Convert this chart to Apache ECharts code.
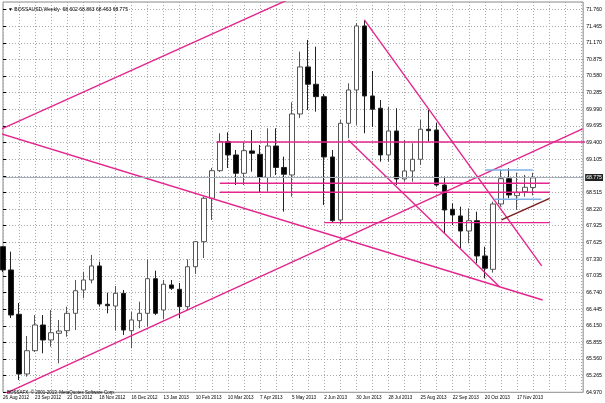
<!DOCTYPE html>
<html><head><meta charset="utf-8">
<script src="https://cdn.jsdelivr.net/npm/echarts@6/dist/echarts.min.js"></script>
<style>html,body{margin:0;padding:0;background:#fff}#c{width:605px;height:403px}</style>
</head><body><div id="c"></div>
<script>
// ---- data (weekly bars, index 0 = week of 26 Aug 2012) ----
const dateLabels = ['26 Aug 2012','23 Sep 2012','21 Oct 2012','18 Nov 2012','16 Dec 2012','13 Jan 2013','10 Feb 2013','10 Mar 2013','7 Apr 2013','5 May 2013','2 Jun 2013','30 Jun 2013','28 Jul 2013','25 Aug 2013','22 Sep 2013','20 Oct 2013','17 Nov 2013'];
const openP  = [67.553,67.140,66.354,65.295,65.708,66.164,65.898,66.017,66.063,66.371,66.785,66.962,67.211,66.531,66.501,66.726,66.063,66.240,66.371,66.985,66.430,66.874,66.797,66.489,67.198,67.642,68.412,68.901,69.416,69.180,68.855,69.251,69.192,68.781,69.339,68.958,68.825,69.907,70.741,70.434,70.214,69.144,68.027,69.742,70.333,71.468,70.226,70.008,69.180,69.605,68.754,68.896,69.103,69.636,69.623,68.647,68.216,68.098,67.831,68.014,67.388,67.152,68.310,68.759,68.458,68.529,68.602];
const highP  = [67.565,67.464,66.554,65.969,66.341,66.341,66.430,66.253,66.489,66.962,67.109,67.406,67.287,66.737,66.856,66.785,66.395,66.577,67.329,67.127,66.962,66.962,66.909,67.329,67.654,68.440,68.949,69.565,69.582,69.268,69.398,69.623,69.357,69.653,69.653,69.150,70.115,71.012,71.220,71.101,70.262,69.268,69.801,70.452,71.516,71.575,70.670,70.155,70.037,70.008,69.446,69.387,69.801,69.978,69.747,68.795,68.323,68.263,68.234,68.174,67.553,68.351,68.914,68.944,68.866,68.825,68.863];
const lowP   = [67.104,66.288,65.188,65.247,65.685,65.662,65.779,65.484,65.956,66.075,66.638,66.904,66.489,66.371,66.063,65.987,65.751,66.105,66.134,66.341,66.265,66.785,66.283,66.430,67.069,67.352,68.027,68.878,68.949,68.647,68.647,68.883,68.523,68.529,68.825,68.174,68.440,69.836,69.978,69.948,68.293,67.973,67.956,69.476,69.712,69.565,69.676,69.061,69.061,68.647,68.706,68.706,69.002,69.416,68.617,67.791,67.938,67.525,67.613,67.258,66.992,67.092,68.263,68.412,68.204,68.440,68.463];
const closeP = [67.140,66.341,65.295,65.708,66.164,65.898,66.027,66.057,66.371,66.772,66.962,67.211,66.536,66.506,66.726,66.075,66.253,66.371,66.985,66.371,66.886,66.815,66.489,67.198,67.642,68.412,68.901,69.416,69.180,68.855,69.256,69.210,68.781,69.339,68.958,68.837,69.907,70.741,70.434,70.214,69.144,68.014,69.742,70.333,71.468,70.226,69.990,69.180,69.605,68.754,68.896,69.103,69.636,69.611,68.647,68.204,68.115,67.831,68.014,67.388,67.170,68.310,68.759,68.470,68.511,68.607,68.775];
const yTickLabels = ['64.970','65.265','65.560','65.855','66.150','66.445','66.740','67.035','67.330','67.625','67.925','68.220','68.515','68.810','69.105','69.400','69.695','69.990','70.285','70.580','70.875','71.170','71.465','71.760'];
const lastPrice = 68.775;
const headerText = '\u25BC BOSSAUSD,Weekly  68.602 68.863 68.463 68.775';
const copyrightText = 'BOSSAFX, \u00A9 2001-2013, MetaQuotes Software Corp.';
// trend objects: [bar index, price] anchor pairs
const pinkLines = [
  [[-1,69.588],[67.2,66.607]],
  [[-1,69.588],[38.2,72.107]],
  [[0.16,64.940],[72.17,69.641]],
  [[45,71.575],[67.08,67.211]],
  [[43,69.446],[61.86,66.838]],
  [[26.6,69.41],[72.5,69.41]],
  [[27,68.678],[68.07,68.678]],
  [[27,68.518],[68.07,68.518]],
  [[40,67.979],[68.1,67.979]]
];
const blueLines = [
  [[60.06,68.914],[65.96,68.914]],
  [[61.16,68.394],[67.04,68.394]]
];
const maroonLines = [
  [[62.07,68.03],[68.07,68.41]]
];

// ---- build ----
const FONT = '"Liberation Sans","DejaVu Sans",Arial,sans-serif';
const yTickVals = yTickLabels.map(Number);
const candleData = openP.map((o, i) => [i, o, closeP[i], lowP[i], highP[i]]);
function lineSeries(pts, color, width) {
  return { type:'line', data:pts, symbol:'none', showSymbol:false, silent:true, clip:true,
    lineStyle:{ color:color, width:width }, z:4, animation:false };
}
const series = [{
  type:'candlestick', data:candleData, encode:{ x:0, y:[1,2,3,4] }, barWidth:5, clip:true, silent:true,
  itemStyle:{ color:'#ffffff', color0:'#000000', borderColor:'#555555', borderColor0:'#222222', borderWidth:1 },
  markLine:{ symbol:['none','none'], silent:true, animation:false,
    data:[{ yAxis:lastPrice }],
    lineStyle:{ color:'#a3adbb', width:1, type:'solid' },
    label:{ show:true, position:'end', distance:2, formatter: lastPrice.toFixed(3), fontSize:5.2, fontFamily:FONT,
      color:'#ffffff', backgroundColor:'#222222', padding:[1,1,1,1] } },
  z:3
}];
pinkLines.forEach(p => series.push(lineSeries(p, '#e3258d', 1.4)));
blueLines.forEach(p => series.push(lineSeries(p, '#7fb2e6', 1.4)));
maroonLines.forEach(p => series.push(lineSeries(p, '#7a1a1a', 1.4)));

const chart = echarts.init(document.getElementById('c'), null, { renderer:'canvas' });
chart.setOption({
  animation:false,
  backgroundColor:'#ffffff',
  title:[
    { text:headerText, left:3, top:2, textStyle:{ fontSize:5, fontWeight:'normal', color:'#000', fontFamily:FONT } },
    { text:copyrightText, left:2, top:385, textStyle:{ fontSize:4.5, fontWeight:'normal', color:'#000', fontFamily:FONT } }
  ],
  grid:{ left:2, top:2, width:581.5, height:390.3, show:true, borderColor:'#8a8a8a', borderWidth:1, containLabel:false },
  xAxis:{ type:'value', min:0, max:72.24, interval:2,
    axisLine:{ show:false }, axisTick:{ show:false },
    splitLine:{ show:true, lineStyle:{ color:'#a8a8a8', type:[1,2], width:1 } },
    axisLabel:{ show:true, align:'left', fontSize:4.6, color:'#000', margin:3, fontFamily:FONT,
      showMaxLabel:false,
      formatter: v => (Math.abs(v % 4) < 1e-6 && dateLabels[Math.round(v/4)]) ? dateLabels[Math.round(v/4)] : '' } },
  yAxis:{ type:'value', position:'right', min:64.970, max:71.893,
    axisLine:{ show:false },
    axisTick:{ show:true, customValues:yTickVals, length:3, lineStyle:{ color:'#000' } },
    splitLine:{ show:true, lineStyle:{ color:'#a8a8a8', type:[1,2], width:1 } },
    axisLabel:{ show:true, customValues:yTickVals, fontSize:5.2, color:'#000', margin:3, fontFamily:FONT,
      formatter: v => {
        let k = 0; yTickVals.forEach((t, j) => { if (Math.abs(t - v) < Math.abs(yTickVals[k] - v)) k = j; });
        return Math.abs(v - lastPrice) < 0.06 ? '' : yTickLabels[k];
      } } },
  series:series
});
</script></body></html>
